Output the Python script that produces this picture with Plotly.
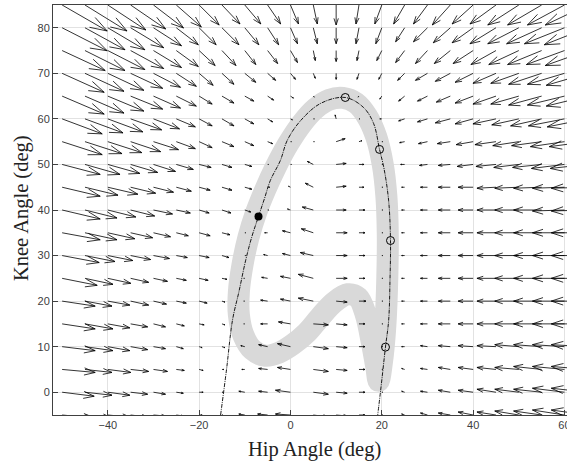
import plotly.graph_objects as go

# ---------------- data ----------------
hip_grid = [-50, -45, -40, -35, -30, -25, -20, -15, -10, -5, 0, 5, 10, 15, 20, 25, 30, 35, 40, 45, 50, 55, 60, 65]
knee_grid = [85, 80, 75, 70, 65, 60, 55, 50, 45, 40, 35, 30, 25, 20, 15, 10, 5, 0, -5]

# vector field components (one row per knee_grid value, columns follow hip_grid)
U = [
    [45, 42, 38, 35, 30, 25, 20, 18, 16, 13, 8, 4, 0, -3, -7, -11, -14, -18, -21, -26, -31, -34, -37, -42],
    [45, 40, 37, 33, 28, 22, 17, 17, 14, 11, 7, 4, 0, -3, -6, -9, -14, -17, -21, -26, -31, -35, -40, -43],
    [43, 40, 37, 33, 28, 22, 16, 14, 11, 10, 7, 2, 0, -2, -5, -9, -12, -16, -20, -25, -30, -34, -38, -42],
    [42, 39, 36, 32, 27, 20, 14, 12, 11, 8, 5, 2, 0, -2, -3, -7, -12, -15, -18, -23, -28, -33, -37, -41],
    [42, 39, 36, 32, 27, 20, 13, 12, 9, 6, 3, 1, 0, -1, -2, -6, -10, -14, -18, -23, -28, -33, -37, -41],
    [40, 38, 35, 31, 26, 19, 13, 12, 9, 5, 2, 1, -1, 1, -2, -6, -10, -15, -18, -23, -27, -31, -36, -40],
    [40, 37, 34, 30, 25, 19, 13, 12, 9, 5, 1, 1, 9, 3, 1, -5, -9, -13, -17, -21, -26, -30, -34, -38],
    [38, 35, 32, 27, 22, 17, 12, 10, 7, 1, 1, -6, 10, 5, 1, -4, -8, -12, -16, -20, -25, -29, -33, -37],
    [38, 33, 30, 25, 20, 15, 11, 10, 7, 2, -2, -8, 10, 5, 1, -3, -7, -12, -15, -19, -24, -28, -32, -36],
    [38, 32, 28, 24, 19, 14, 10, 9, 6, 1, -3, -11, 10, 6, 1, -3, -7, -12, -15, -19, -24, -28, -32, -36],
    [38, 32, 27, 22, 17, 12, 11, 8, 1, -3, -8, -12, 11, 6, 1, -3, -7, -12, -15, -19, -24, -28, -32, -36],
    [37, 30, 25, 20, 16, 11, 10, 7, 1, -4, -8, -13, 11, 6, 1, -3, -7, -12, -15, -19, -24, -28, -32, -36],
    [35, 28, 23, 18, 14, 10, 9, 5, -1, -6, -10, -15, 11, 6, 1, -3, -7, -12, -15, -19, -24, -28, -32, -36],
    [33, 27, 22, 18, 13, 10, 8, 3, -1, -7, -10, -15, 11, 7, 1, -3, -7, -12, -15, -19, -24, -28, -32, -36],
    [33, 28, 22, 17, 12, 8, 5, 3, -1, -7, -12, 15, 11, 6, 1, -3, -7, -12, -15, -19, -24, -28, -32, -36],
    [33, 28, 22, 17, 12, 7, 3, 3, -4, -9, -13, 15, 11, 6, 1, -3, -7, -12, -15, -19, -24, -28, -32, -36],
    [33, 27, 23, 18, 14, 8, 4, 2, -3, -9, -13, 15, 11, 6, 1, -3, -7, -12, -15, -19, -24, -28, -32, -36],
    [32, 27, 22, 17, 12, 7, 4, 1, -6, -9, -15, 15, 11, 6, 1, -3, -7, -12, -15, -19, -24, -28, -32, -36],
    [32, 27, 22, 17, 12, 7, 3, 1, -6, -10, -15, 15, 11, 6, 1, -3, -7, -12, -15, -19, -24, -28, -32, -36],
]
V = [
    [-26, -26, -25, -24, -23, -22, -20, -19, -19, -19, -19, -19, -20, -19, -19, -19, -19, -20, -19, -19, -20, -20, -20, -20],
    [-23, -22, -22, -20, -18, -17, -17, -17, -17, -17, -16, -16, -16, -16, -16, -14, -14, -15, -15, -16, -16, -16, -16, -17],
    [-20, -20, -19, -18, -17, -16, -15, -15, -14, -13, -12, -10, -11, -10, -10, -12, -13, -13, -13, -14, -14, -14, -14, -15],
    [-19, -18, -17, -15, -14, -13, -12, -11, -9, -7, -6, -5, -6, -6, -6, -7, -7, -8, -9, -10, -10, -11, -11, -12],
    [-18, -17, -15, -13, -12, -10, -8, -7, -5, -4, -2, -1, 0, -1, -3, -5, -5, -6, -7, -8, -8, -9, -9, -10],
    [-15, -14, -13, -11, -10, -8, -7, -7, -5, -3, -1, 0, 4, 0, 0, -2, -3, -4, -5, -5, -6, -7, -7, -8],
    [-13, -12, -11, -10, -8, -7, -6, -5, -4, -2, 0, 0, 3, 1, 0, -1, -2, -2, -3, -3, -4, -4, -5, -5],
    [-10, -10, -9, -8, -7, -5, -3, -3, -2, 0, 0, 3, 1, 0, 0, 0, -1, -1, -2, -2, -3, -3, -4, -4],
    [-9, -8, -7, -6, -5, -4, -3, -3, -2, 0, 1, 4, 1, 0, 0, 0, 0, 0, 0, -1, -1, -1, -1, -1],
    [-9, -8, -7, -6, -4, -3, -3, -3, -2, 0, 1, 3, 0, 0, 0, 0, 0, 0, 0, 0, 0, 0, -1, -1],
    [-7, -7, -6, -5, -4, -3, -3, -2, 0, 0, 2, 4, 0, 0, 0, 0, 0, 0, 0, 0, 0, 0, 0, 0],
    [-7, -6, -5, -4, -3, -2, -2, -2, 0, 1, 2, 3, 0, 0, 0, 0, 0, 0, 0, 0, 0, 0, 0, 0],
    [-7, -6, -5, -4, -3, -2, -2, -1, 0, 1, 2, 4, 0, 0, 0, 0, 0, 0, 0, 0, 0, 0, 0, 0],
    [-5, -5, -4, -4, -3, -2, -2, -1, 0, 1, 2, 3, -1, 0, 0, 0, 0, 0, 0, 0, 0, 0, 0, 0],
    [-5, -5, -4, -3, -3, -2, -1, -1, 0, 0, 2, -1, -1, 0, 0, 0, 0, 0, 0, 0, 0, 0, 0, 0],
    [-4, -4, -4, -3, -2, -2, -1, -1, 1, 2, 3, -2, -1, 0, 0, 0, 1, 1, 1, 1, 2, 2, 2, 2],
    [-3, -3, -3, -2, -2, -1, -1, 0, 0, 1, 2, -2, -1, 0, 0, 1, 1, 2, 2, 2, 2, 3, 3, 3],
    [-4, -3, -3, -2, -2, -1, 0, 0, 1, 1, 2, -2, -1, 0, 0, 1, 1, 2, 2, 3, 3, 3, 4, 4],
    [-3, -3, -2, -2, -1, -1, 0, 0, 1, 1, 1, -2, -1, 0, 0, 1, 2, 2, 3, 3, 4, 4, 5, 5],
]

# gray band: measured gait loop (hip, knee)
band_hip = [19.3, 20.2, 20.8, 21.2, 21.3, 21.0, 20.2, 18.8, 16.8, 14.3, 11.5, 8.5, 5.5, 2.5, -0.5,
            -3.2, -5.5, -7.5, -9.2, -10.5, -11.3, -11.3, -10.3, -8.3, -5.5, -2.5, 0.5, 3.5, 6.5,
            9.5, 12.5, 14.8, 16.5, 17.8, 18.8, 19.3]
band_knee = [2.5, 8, 15, 25, 35, 43, 50, 56, 60.5, 63.5, 64.6, 64.2, 62.3, 59, 54.5,
             49.5, 44.5, 39.5, 34, 28, 22, 17, 12.5, 9.3, 8, 8.7, 10.5, 13, 16.5,
             19.7, 21.5, 20.8, 17, 11, 5.5, 2.5]

# thin black trajectory
traj_hip = [-15.3, -14.0, -12.7, -11.3, -9.8, -8.5, -7.0, -5.7, -4.4, -2.2, -0.7, 2.2, 6.6, 12.0,
            16.0, 18.2, 19.5, 20.5, 21.5, 21.9, 21.8, 21.5, 20.8, 19.7, 19.1]
traj_knee = [-5, 5, 15.8, 22, 29, 34, 38.6, 42.5, 46.5, 50.9, 55.3, 59.6, 63.4, 64.7,
             62.5, 59, 53.3, 49, 42, 33.3, 25, 15.8, 9.9, 0, -5]

open_hip = [12.0, 19.5, 21.9, 20.8]
open_knee = [64.7, 53.3, 33.3, 9.9]
filled_hip = [-7.0]
filled_knee = [38.6]

QUIVER_SCALE = 1 / 4.56   # degrees per field unit
HEAD_ALPHA = 0.33
HEAD_BETA = 0.33

# ---------------- build quiver line segments ----------------
qx, qy = [], []
for i, ky in enumerate(knee_grid):
    for j, hx in enumerate(hip_grid):
        u = U[i][j] * QUIVER_SCALE
        v = V[i][j] * QUIVER_SCALE
        if u == 0 and v == 0:
            continue
        tx, ty = hx + u, ky + v
        qx += [hx, tx, None]
        qy += [ky, ty, None]
        qx += [tx - HEAD_ALPHA * (u + HEAD_BETA * v), tx, tx - HEAD_ALPHA * (u - HEAD_BETA * v), None]
        qy += [ty - HEAD_ALPHA * (v - HEAD_BETA * u), ty, ty - HEAD_ALPHA * (v + HEAD_BETA * u), None]

fig = go.Figure()
fig.add_trace(go.Scatter(x=band_hip, y=band_knee, mode="lines",
                         line=dict(color="#d9d9d9", width=22, shape="spline", smoothing=1.0),
                         hoverinfo="skip", showlegend=False))
fig.add_trace(go.Scatter(x=qx, y=qy, mode="lines",
                         line=dict(color="black", width=0.8),
                         hoverinfo="skip", showlegend=False))
fig.add_trace(go.Scatter(x=traj_hip, y=traj_knee, mode="lines",
                         line=dict(color="black", width=0.9, shape="spline", dash="4px,1px,1px,1px"),
                         hoverinfo="skip", showlegend=False))
fig.add_trace(go.Scatter(x=open_hip, y=open_knee, mode="markers",
                         marker=dict(symbol="circle-open", size=8, color="black", line=dict(width=1)),
                         showlegend=False))
fig.add_trace(go.Scatter(x=filled_hip, y=filled_knee, mode="markers",
                         marker=dict(symbol="circle", size=8, color="black"),
                         showlegend=False))

tickfont = dict(family="Liberation Sans, Arial, sans-serif", size=11, color="#404040")
fig.update_layout(
    width=567, height=464,
    margin=dict(l=53, r=0, t=5, b=49, autoexpand=False),
    paper_bgcolor="white", plot_bgcolor="white",
    xaxis=dict(range=[-52, 60.55], tickvals=[-40, -20, 0, 20, 40, 60],
               showgrid=True, gridcolor="#e2e2e2", gridwidth=1, zeroline=False,
               showline=True, linecolor="#404040", linewidth=1, mirror=True,
               ticks="inside", ticklen=5, tickcolor="#404040", tickfont=tickfont,
               ticklabeloverflow="allow", automargin=False),
    yaxis=dict(range=[-5, 85], tickvals=[0, 10, 20, 30, 40, 50, 60, 70, 80],
               showgrid=True, gridcolor="#e2e2e2", gridwidth=1, zeroline=False,
               showline=True, linecolor="#404040", linewidth=1,
               ticks="inside", ticklen=5, tickcolor="#404040", tickfont=tickfont,
               automargin=False),
    annotations=[
        dict(text="Hip Angle (deg)", xref="paper", yref="paper", x=0.508, y=-0.083,
             xanchor="center", yanchor="middle", showarrow=False,
             font=dict(family="Liberation Serif, Times New Roman, serif", size=20.5, color="#222")),
        dict(text="Knee Angle (deg)", xref="paper", yref="paper", x=-0.060, y=0.505,
             xanchor="center", yanchor="middle", showarrow=False, textangle=-90,
             font=dict(family="Liberation Serif, Times New Roman, serif", size=20.5, color="#222")),
    ],
)

fig.write_html("out.html")
